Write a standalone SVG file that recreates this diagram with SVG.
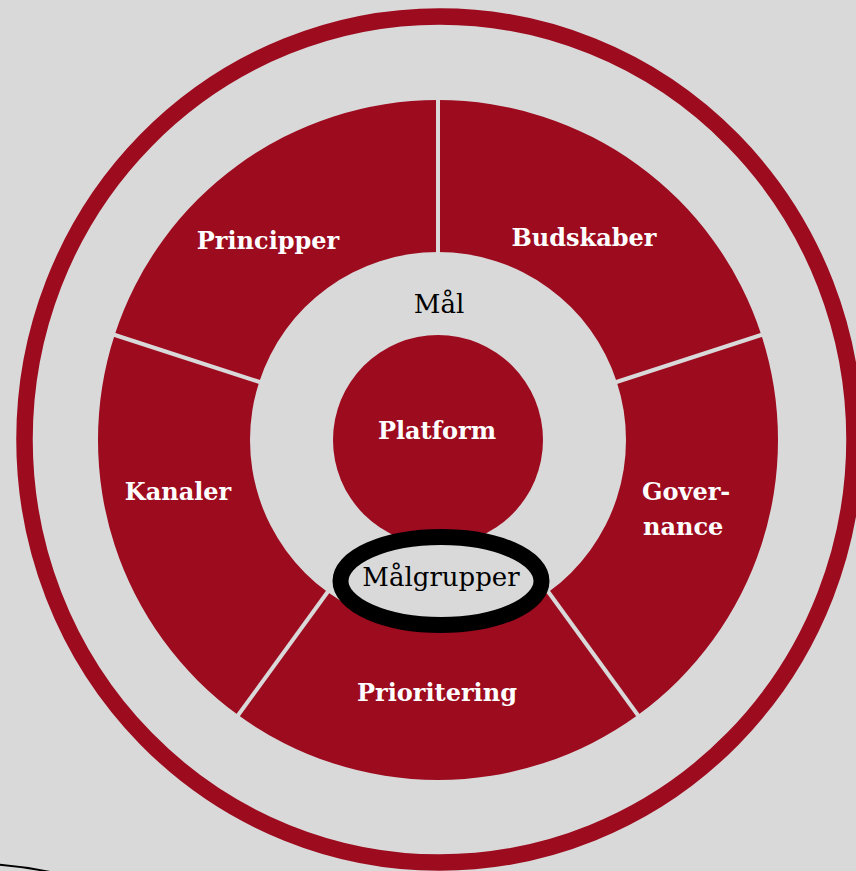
<svg xmlns="http://www.w3.org/2000/svg" width="856" height="871" viewBox="0 0 856 871">
<style>
.seg{fill:#9d0b1f}
.div{stroke:#d9d9d9;stroke-width:4;fill:none}
.lbl{font-family:"DejaVu Serif","Liberation Serif",serif;font-weight:bold;font-size:24px;fill:#ffffff}
.dark{font-family:"DejaVu Serif","Liberation Serif",serif;font-size:26px;fill:#000000}
</style>
<rect x="0" y="0" width="856" height="871" fill="#d9d9d9"/>
<g id="outer-ring">
<ellipse cx="439.5" cy="439.5" rx="415" ry="423" fill="none" stroke="#9d0b1f" stroke-width="16.5"/>
</g>
<g id="budskaber">
<path class="seg" d="M438,100 A340,340 0 0 1 761.36,334.93 L616.80,381.90 A188,188 0 0 0 438,252 Z"/>
<text class="lbl" x="584" y="246" text-anchor="middle">Budskaber</text>
</g>
<g id="governance">
<path class="seg" d="M761.36,334.93 A340,340 0 0 1 637.85,715.07 L548.50,592.10 A188,188 0 0 0 616.80,381.90 Z"/>
<text class="lbl" x="642" y="500">Gover-</text>
<text class="lbl" x="643" y="535">nance</text>
</g>
<g id="prioritering">
<path class="seg" d="M637.85,715.07 A340,340 0 0 1 238.15,715.07 L327.50,592.10 A188,188 0 0 0 548.50,592.10 Z"/>
<text class="lbl" x="437" y="701" text-anchor="middle">Prioritering</text>
</g>
<g id="kanaler">
<path class="seg" d="M238.15,715.07 A340,340 0 0 1 114.64,334.93 L259.20,381.90 A188,188 0 0 0 327.50,592.10 Z"/>
<text class="lbl" x="178" y="500" text-anchor="middle">Kanaler</text>
</g>
<g id="principper">
<path class="seg" d="M114.64,334.93 A340,340 0 0 1 438,100 L438,252 A188,188 0 0 0 259.20,381.90 Z"/>
<text class="lbl" x="268" y="249" text-anchor="middle">Principper</text>
</g>
<g id="dividers">
<line class="div" x1="438" y1="254" x2="438" y2="97"/>
<line class="div" x1="614.9" y1="382.5" x2="764.2" y2="334"/>
<line class="div" x1="547.3" y1="590.5" x2="639.6" y2="717.5"/>
<line class="div" x1="328.7" y1="590.5" x2="236.4" y2="717.5"/>
<line class="div" x1="261.1" y1="382.5" x2="111.8" y2="334"/>
</g>
<g id="maal">
<text class="dark" x="439" y="313" text-anchor="middle">Mål</text>
</g>
<g id="platform">
<circle cx="438" cy="440" r="105" fill="#9d0b1f"/>
<text class="lbl" x="437" y="439" text-anchor="middle">Platform</text>
</g>
<g id="maalgrupper">
<ellipse cx="441" cy="581" rx="100.5" ry="44" fill="#d9d9d9" stroke="#000000" stroke-width="16"/>
<text class="dark" x="441" y="586" text-anchor="middle">Målgrupper</text>
</g>
<g id="connectors">
<path d="M-2,864.5 Q24,866.5 50,872" fill="none" stroke="#000000" stroke-width="2"/>
</g>
</svg>
